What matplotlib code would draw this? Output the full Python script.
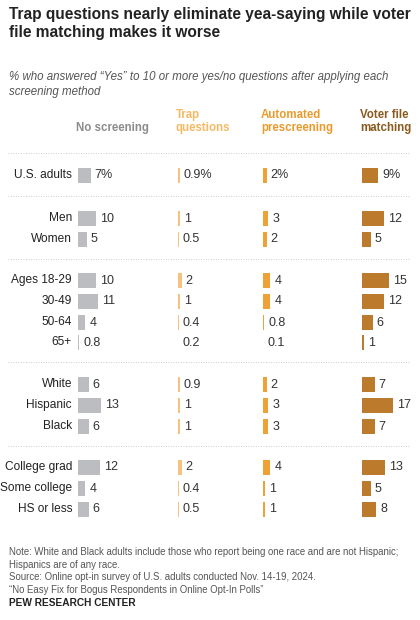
import matplotlib as mpl

mpl.use("Agg")
import matplotlib.pyplot as plt

plt.rcParams["font.family"] = ["Liberation Sans", "DejaVu Sans"]

# --- data ---
LABELS = ["U.S. adults", "Men", "Women", "Ages 18-29", "30-49", "50-64", "65+",
          "White", "Hispanic", "Black", "College grad", "Some college", "HS or less"]
NO_SCREEN = [7, 10, 5, 10, 11, 4, 0.8, 6, 13, 6, 12, 4, 6]
TRAP = [0.9, 1, 0.5, 2, 1, 0.4, 0.2, 0.9, 1, 1, 2, 0.4, 0.5]
AUTO = [2, 3, 2, 4, 4, 0.8, 0.1, 2, 3, 3, 4, 1, 1]
VOTER = [9, 12, 5, 15, 12, 6, 1, 7, 17, 7, 13, 5, 8]
HEADERS = ["No screening", "Trap\nquestions", "Automated\nprescreening", "Voter file\nmatching"]

ROW_Y = [175, 218, 239, 280, 301, 322, 342, 384, 405, 426, 467, 488, 509]
SEP_Y = [153, 196, 259, 362, 446]
COL_X = [78, 178, 263, 362]
BAR_COLORS = ["#bcbdc0", "#f7c27e", "#eea136", "#bc7a2c"]
HEAD_COLORS = ["#8c8c8c", "#f5b964", "#e99a2c", "#8a5a1e"]
SCALE = 1.8  # px per percentage point

fig = plt.figure(figsize=(4.2, 6.2), dpi=100)
ax = fig.add_axes([0, 0, 1, 1])
ax.set_xlim(0, 420)
ax.set_ylim(620, 0)
ax.axis("off")

fig.text(0.022, 0.988, "Trap questions nearly eliminate yea-saying while voter\nfile matching makes it worse",
         fontsize=11.2, fontweight="bold", va="top", color="#222222", linespacing=1.2)
fig.text(0.022, 0.885, "% who answered \u201cYes\u201d to 10 or more yes/no questions after applying each\nscreening method",
         fontsize=8.3, style="italic", va="top", color="#555555", linespacing=1.3)

for x, h, c in zip(COL_X, HEADERS, HEAD_COLORS):
    ax.text(x - 2, 134, h, fontsize=8.3, fontweight="bold", color=c, va="bottom", ha="left",
            linespacing=1.1)

for y in SEP_Y:
    ax.plot([8, 410], [y, y], color="#bbbbbb", lw=0.6, ls=(0, (1, 2)))

for i, (lab, y) in enumerate(zip(LABELS, ROW_Y)):
    ax.text(72, y, lab, fontsize=8.6, ha="right", va="center", color="#222222")
    for vals, x0, col in zip([NO_SCREEN, TRAP, AUTO, VOTER], COL_X, BAR_COLORS):
        v = vals[i]
        ax.barh(y, v * SCALE, left=x0, height=15, color=col, linewidth=0)
        txt = f"{v:g}%" if i == 0 else f"{v:g}"
        ax.text(x0 + v * SCALE + 4, y + 0.5, txt, fontsize=9, ha="left", va="center", color="#333333")

notes = ("Note: White and Black adults include those who report being one race and are not Hispanic;\n"
         "Hispanics are of any race.\n"
         "Source: Online opt-in survey of U.S. adults conducted Nov. 14-19, 2024.\n"
         "\u201cNo Easy Fix for Bogus Respondents in Online Opt-In Polls\u201d")
fig.text(0.022, 0.118, notes, fontsize=6.9, va="top", color="#555555", linespacing=1.35)
fig.text(0.022, 0.028, "PEW RESEARCH CENTER", fontsize=7.3, fontweight="bold", va="center", color="#222222")

fig.savefig("out.png", dpi=100)
